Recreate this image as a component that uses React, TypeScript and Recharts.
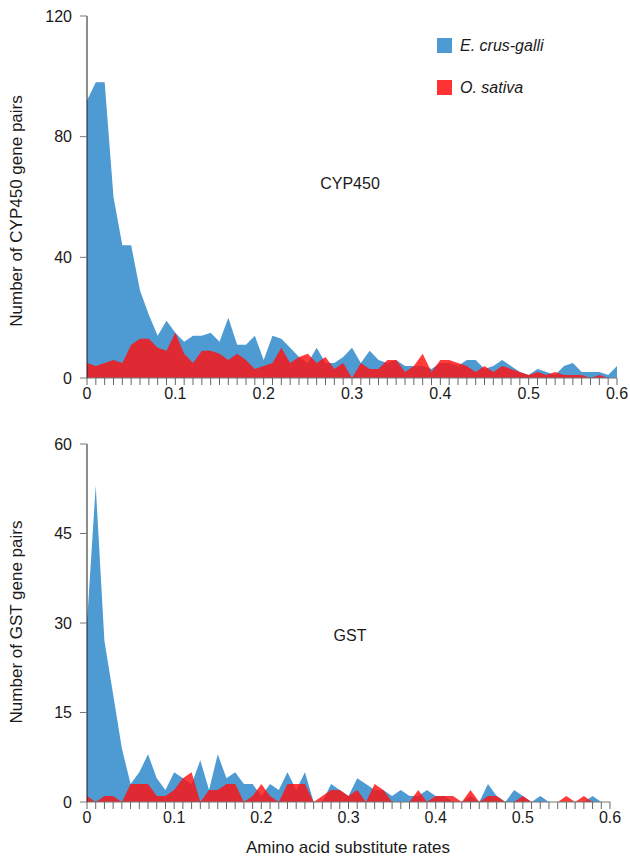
import React from 'react';
import { AreaChart, Area, XAxis, YAxis, Customized } from 'recharts';

// amino acid substitution rate bins (0.01 step)
const rates = [
  0, 0.01, 0.02, 0.03, 0.04, 0.05, 0.06, 0.07, 0.08, 0.09,
  0.1, 0.11, 0.12, 0.13, 0.14, 0.15, 0.16, 0.17, 0.18, 0.19,
  0.2, 0.21, 0.22, 0.23, 0.24, 0.25, 0.26, 0.27, 0.28, 0.29,
  0.3, 0.31, 0.32, 0.33, 0.34, 0.35, 0.36, 0.37, 0.38, 0.39,
  0.4, 0.41, 0.42, 0.43, 0.44, 0.45, 0.46, 0.47, 0.48, 0.49,
  0.5, 0.51, 0.52, 0.53, 0.54, 0.55, 0.56, 0.57, 0.58, 0.59,
  0.6,
];
const majorRates = [0, 0.1, 0.2, 0.3, 0.4, 0.5, 0.6];
const cypTicks = [0, 40, 80, 120];
const gstTicks = [0, 15, 30, 45, 60];

// CYP450 gene pairs
const cypEcg = [
  92, 98, 98, 60, 44, 44, 29, 21, 14, 19,
  15, 12, 14, 14, 15, 12, 20, 11, 11, 14,
  6, 14, 13, 10, 7, 5, 10, 5, 5, 7,
  10, 5, 9, 6, 5, 6, 4, 4, 4, 3,
  5, 5, 4, 6, 6, 3, 4, 6, 4, 2,
  1, 3, 2, 1, 4, 5, 2, 2, 2, 1,
  4,
];
const cypOs = [
  5, 4, 5, 6, 5, 11, 13, 13, 10, 9,
  15, 8, 5, 9, 9, 8, 6, 8, 6, 3,
  4, 5, 10, 5, 7, 8, 5, 7, 3, 5,
  0, 5, 3, 3, 6, 6, 2, 4, 8, 2,
  6, 6, 5, 4, 2, 4, 2, 4, 3, 2,
  1, 2, 1, 2, 1, 1, 1, 0, 1, 0,
  0,
];

// GST gene pairs
const gstEcg = [
  30, 53, 27, 18, 9, 3, 5, 8, 4, 2,
  5, 4, 3, 7, 2, 8, 4, 5, 3, 3,
  1, 3, 2, 5, 2, 5, 0, 0, 3, 2,
  1, 4, 3, 2, 2, 1, 2, 1, 1, 2,
  1, 1, 0, 0, 1, 0, 3, 1, 0, 2,
  1, 0, 1, 0, 0, 0, 0, 0, 1, 0,
  0,
];
const gstOs = [
  1, 0, 1, 1, 0, 3, 3, 3, 1, 1,
  2, 4, 5, 0, 2, 2, 3, 3, 0, 1,
  3, 1, 0, 3, 3, 3, 0, 1, 2, 2,
  1, 2, 0, 3, 2, 0, 0, 0, 2, 0,
  1, 1, 1, 0, 2, 0, 1, 1, 0, 0,
  1, 0, 0, 0, 0, 1, 0, 1, 0, 0,
  0,
];

const cypData = rates.map((rate, i) => ({ rate, ecg: cypEcg[i], os: cypOs[i] }));
const gstData = rates.map((rate, i) => ({ rate, ecg: gstEcg[i], os: gstOs[i] }));

const BLUE = '#4e9bd4';
const RED = '#ff1010';
const FONT = "'Liberation Sans', Arial, Helvetica, sans-serif";

const fmtRate = (v: number) => (majorRates.includes(v) ? String(v) : '');

const RotatedLabel = ({ x, y, text }: { x: number; y: number; text: string }) => (
  <text x={x} y={y} transform={`rotate(-90 ${x} ${y})`} textAnchor="middle" fontSize={17} fill="#1a1a1a">
    {text}
  </text>
);

const PlainLabel = ({ x, y, text, size = 16 }: { x: number; y: number; text: string; size?: number }) => (
  <text x={x} y={y} textAnchor="middle" fontSize={size} fill="#1a1a1a">
    {text}
  </text>
);

const Panel = ({ data, height, marginTop, right, yMax, yTicks, yTitle, name, nameY, yTitleY, xTitle, xAxisHeight }: any) => (
  <AreaChart width={630} height={height} data={data} margin={{ top: marginTop, right, bottom: 0, left: 0 }}>
    <XAxis
      type="number"
      dataKey="rate"
      domain={[0, 0.6]}
      ticks={rates}
      interval={0}
      tickFormatter={fmtRate}
      tickSize={7}
      tickMargin={3}
      height={xAxisHeight}
      axisLine={{ stroke: '#777' }}
      tickLine={{ stroke: '#666' }}
      tick={{ fill: '#1a1a1a', fontSize: 16 }}
    />
    <YAxis
      type="number"
      domain={[0, yMax]}
      ticks={yTicks}
      interval={0}
      tickSize={7}
      tickMargin={8}
      width={87}
      axisLine={{ stroke: '#1a1a1a' }}
      tickLine={{ stroke: '#777' }}
      tick={{ fill: '#1a1a1a', fontSize: 16 }}
    />
    <Area type="linear" dataKey="ecg" fill={BLUE} fillOpacity={1} stroke="none" isAnimationActive={false} />
    <Area type="linear" dataKey="os" fill={RED} fillOpacity={0.82} stroke="none" isAnimationActive={false} />
    <Customized component={() => <RotatedLabel x={22} y={yTitleY} text={yTitle} />} />
    <Customized component={() => <PlainLabel x={350} y={nameY} text={name} />} />
    {xTitle ? <Customized component={() => <PlainLabel x={348} y={height - 5} text={xTitle} size={17} />} /> : null}
  </AreaChart>
);

const LegendRow = ({ color, label, top }: { color: string; label: string; top: number }) => (
  <div style={{ position: 'absolute', left: 437, top, display: 'flex', alignItems: 'center' }}>
    <div style={{ width: 15, height: 15, background: color }} />
    <span style={{ marginLeft: 8, fontSize: 16, fontStyle: 'italic', color: '#1a1a1a', lineHeight: '15px' }}>{label}</span>
  </div>
);

export default function App() {
  return (
    <div style={{ position: 'absolute', left: 0, top: 0, width: 630, height: 858, background: '#fff', fontFamily: FONT }}>
      <div style={{ position: 'absolute', left: 0, top: 0 }}>
        <Panel
          data={cypData}
          height={420}
          marginTop={16}
          right={13}
          yMax={120}
          yTicks={cypTicks}
          yTitle="Number of CYP450 gene pairs"
          yTitleY={211}
          name="CYP450"
          nameY={189}
          xAxisHeight={42}
        />
      </div>
      <div style={{ position: 'absolute', left: 0, top: 420 }}>
        <Panel
          data={gstData}
          height={438}
          marginTop={24}
          right={20}
          yMax={60}
          yTicks={gstTicks}
          yTitle="Number of GST gene pairs"
          yTitleY={202}
          name="GST"
          nameY={221}
          xTitle="Amino acid substitute rates"
          xAxisHeight={56}
        />
      </div>
      <LegendRow color={BLUE} label="E. crus-galli" top={38} />
      <LegendRow color="#ff3333" label="O. sativa" top={80} />
    </div>
  );
}
